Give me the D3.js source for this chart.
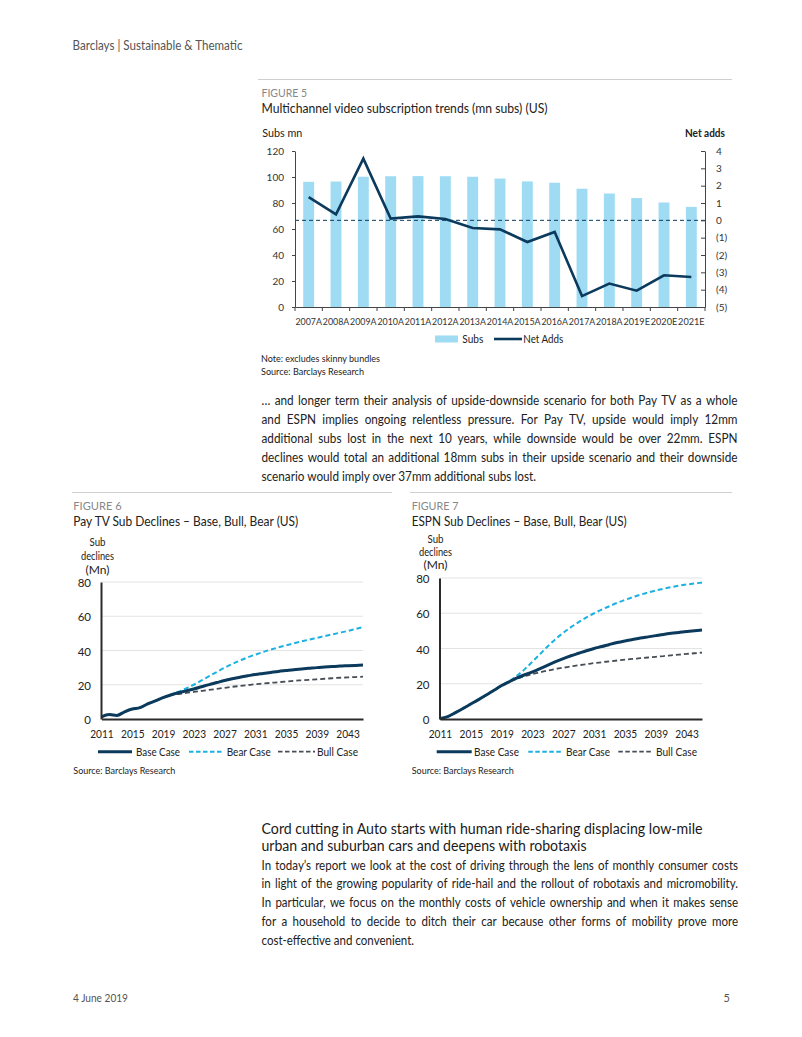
<!DOCTYPE html>
<html><head><meta charset="utf-8">
<script src="https://cdn.jsdelivr.net/npm/d3@7"></script>
<style>
html,body{margin:0;padding:0;background:#fff;}
svg{display:block;font-family:Lato,"Open Sans",sans-serif;}
</style></head><body>
<svg id="page" width="802" height="1037"></svg>
<script>
// ---------------- DATA ----------------
// Figure 5
const subsCategories = ["2007A","2008A","2009A","2010A","2011A","2012A","2013A","2014A","2015A","2016A","2017A","2018A","2019E","2020E","2021E"];
const subsValues = [96.3,96.5,100.2,100.6,100.7,100.6,100.2,98.8,96.6,95.6,91.0,87.3,83.8,80.4,77.0];
const netAddsValues = [1.34,0.35,3.56,0.10,0.23,0.08,-0.44,-0.52,-1.25,-0.67,-4.37,-3.65,-4.06,-3.17,-3.27];
const subsTicks = [0,20,40,60,80,100,120];
const netAddsTicks = [4,3,2,1,0,-1,-2,-3,-4,-5];

// Figures 6 & 7
const years = [2011,2012,2013,2014,2015,2016,2017,2018,2019,2020,2021,2022,2023,2024,2025,2026,2027,2028,2029,2030,2031,2032,2033,2034,2035,2036,2037,2038,2039,2040,2041,2042,2043,2044,2045];
const yearTicks = [2011,2015,2019,2023,2027,2031,2035,2039,2043];
const declineTicks = [0,20,40,60,80];

const payTvHistory = [1.3,2.6,2.1,4.2,5.8,6.6,8.8,10.6,12.5]; // 2011-2019
const payTvBase = [14.0,15.3,16.4,17.5,18.8,20.1,21.3,22.5,23.5,24.4,25.2,26.0,26.6,27.2,27.8,28.3,28.8,29.2,29.6,30.0,30.3,30.6,30.9,31.1,31.3,31.5];
const payTvBear = [14.2,15.9,17.9,20.0,22.5,25.0,27.5,29.9,32.1,34.1,36.0,37.6,39.1,40.5,41.8,43.0,44.2,45.3,46.4,47.4,48.4,49.4,50.4,51.4,52.5,53.7];
const payTvBull = [14.0,14.6,15.2,15.8,16.4,17.0,17.6,18.2,18.8,19.3,19.8,20.3,20.7,21.1,21.5,21.9,22.3,22.6,22.9,23.2,23.5,23.8,24.1,24.3,24.5,24.7];

const espnHistory = [0.3,1.4,3.6,6.0,8.5,11.0,13.6,16.3,19.0]; // 2011-2019
const espnBase = [21.2,23.3,25.1,26.7,28.6,30.6,32.5,34.3,35.9,37.3,38.7,40.0,41.1,42.3,43.4,44.3,45.1,45.9,46.6,47.3,48.0,48.6,49.1,49.6,50.1,50.5];
const espnBear = [21.5,24.6,28.3,32.5,36.9,41.3,45.3,48.9,52.1,55.0,57.6,60.0,62.1,64.0,65.9,67.6,69.1,70.5,71.8,72.9,73.9,74.8,75.6,76.3,76.9,77.4];
const espnBull = [21.2,22.9,24.3,25.5,26.5,27.5,28.4,29.1,29.8,30.5,31.1,31.7,32.2,32.7,33.2,33.7,34.1,34.5,34.9,35.3,35.7,36.1,36.5,36.9,37.3,37.7];

const legendNames = ["Base Case","Bear Case","Bull Case"];

// ---------------- STYLE ----------------
const NAVY = "#0b3a5c", CYAN = "#1bb1e0", GREY = "#474d55", BAR = "#9fdcf4";
const TEXT = "#222", LIGHT = "#888";

const svg = d3.select("#page");
svg.append("rect").attr("width",802).attr("height",1037).attr("fill","#fff");

function T(parent, x, y, s, o = {}) {
  const t = parent.append("text").attr("x", x).attr("y", y)
    .attr("dominant-baseline", "central")
    .attr("font-size", o.size || 12).attr("fill", o.fill || TEXT).text(s);
  if (o.weight) t.attr("font-weight", o.weight);
  if (o.anchor) t.attr("text-anchor", o.anchor);
  if (o.w) t.attr("textLength", o.w).attr("lengthAdjust", "spacingAndGlyphs");
  return t;
}

function para(lines, x0, x1, y0, lh, fs, lastWidth) {
  const g = svg.append("g").attr("font-size", fs).attr("fill", TEXT);
  const meas = s => { const t = g.append("text").text(s); const w = t.node().getComputedTextLength(); t.remove(); return w; };
  const k = lastWidth / meas(lines[lines.length - 1]);
  lines.forEach((line, i) => {
    const last = i === lines.length - 1;
    if (last) {
      g.append("text").attr("x", x0).attr("y", y0 + i * lh).attr("dominant-baseline", "central")
        .attr("textLength", lastWidth).attr("lengthAdjust", "spacingAndGlyphs").text(line);
      return;
    }
    const words = line.split(" ");
    const ws = words.map(w => meas(w) * k);
    const sum = d3.sum(ws);
    const gap = (x1 - x0 - sum) / (words.length - 1);
    let x = x0;
    words.forEach((w, j) => {
      g.append("text").attr("x", x).attr("y", y0 + i * lh).attr("dominant-baseline", "central")
        .attr("textLength", ws[j]).attr("lengthAdjust", "spacingAndGlyphs").text(w);
      x += ws[j] + gap;
    });
  });
}

// ---------------- PAGE TEXT ----------------
T(svg, 72.5, 45.7, "Barclays | Sustainable & Thematic", {size: 12.5, fill: "#555", w: 170});
T(svg, 73, 997, "4 June 2019", {size: 11, fill: "#555", w: 55});
T(svg, 730, 997, "5", {size: 11, fill: "#555", anchor: "end"});

// ---------------- FIGURE 5 ----------------
svg.append("line").attr("x1",258).attr("x2",732).attr("y1",79.5).attr("y2",79.5).attr("stroke","#cfcfcf");
T(svg, 261.5, 92.3, "FIGURE 5", {size: 11.5, fill: LIGHT, w: 45.6});
T(svg, 261.5, 108.3, "Multichannel video subscription trends (mn subs) (US)", {size: 12.5, w: 286});
T(svg, 262.3, 133, "Subs mn", {size: 10.5, w: 40});
T(svg, 725, 133, "Net adds", {size: 10.5, weight: "bold", anchor: "end", w: 40});

const f5 = svg.append("g");
const xOuter = d3.scaleBand().domain(subsCategories).range([295, 705]).padding(0);
const xBar = d3.scaleBand().domain(subsCategories).range([295, 705]).paddingInner(0.6).paddingOuter(0.3);
const yL = d3.scaleLinear().domain([0, 120]).range([307, 151]);
const yR = d3.scaleLinear().domain([-5, 4]).range([307, 151]);

f5.selectAll("rect.bar").data(subsValues).join("rect").attr("class","bar")
  .attr("x", (d, i) => xBar(subsCategories[i])).attr("width", xBar.bandwidth())
  .attr("y", d => yL(d)).attr("height", d => yL(0) - yL(d)).attr("fill", BAR);

f5.append("line").attr("x1",295).attr("x2",705).attr("y1",yR(0)).attr("y2",yR(0))
  .attr("stroke", NAVY).attr("stroke-width",1).attr("stroke-dasharray","4,3");

const netLine = d3.line().x((d, i) => xOuter(subsCategories[i]) + xOuter.bandwidth() / 2).y(d => yR(d));
f5.append("path").datum(netAddsValues).attr("d", netLine).attr("fill","none")
  .attr("stroke", NAVY).attr("stroke-width", 2.6).attr("stroke-linejoin","miter");

const axL = f5.append("g").attr("transform","translate(295,0)")
  .call(d3.axisLeft(yL).tickValues(subsTicks).tickSize(3).tickSizeOuter(0).tickPadding(8));
const axR = f5.append("g").attr("transform","translate(705,0)")
  .call(d3.axisRight(yR).tickValues(netAddsTicks).tickSizeInner(-4).tickSizeOuter(0).tickPadding(11)
    .tickFormat(d => d < 0 ? "(" + (-d) + ")" : String(d)));
const axB = f5.append("g").attr("transform","translate(0,307)")
  .call(d3.axisBottom(xOuter).tickSize(0).tickPadding(8));
axB.selectAll("text").attr("y", 13.5).attr("dy", null).attr("dominant-baseline","central")
  .attr("textLength", 26.5).attr("lengthAdjust","spacingAndGlyphs");
[axL, axR, axB].forEach(a => {
  a.attr("font-family", null).attr("font-size", 10);
  a.selectAll("path.domain").attr("stroke","#444");
  a.selectAll(".tick line").attr("stroke","#444");
  a.selectAll("text").attr("fill", "#333");
});
f5.selectAll("line.bt").data(subsCategories.concat(["_end"])).join("line").attr("class","bt")
  .attr("x1", (d, i) => i < subsCategories.length ? xOuter(d) : 705)
  .attr("x2", (d, i) => i < subsCategories.length ? xOuter(d) : 705)
  .attr("y1", 307).attr("y2", 311).attr("stroke","#444");

f5.append("rect").attr("x",435).attr("y",335.5).attr("width",23).attr("height",7).attr("fill",BAR);
T(f5, 462.3, 339, "Subs", {size: 10.5, w: 21});
f5.append("line").attr("x1",494).attr("x2",522).attr("y1",339).attr("y2",339).attr("stroke",NAVY).attr("stroke-width",2.6);
T(f5, 523.3, 339, "Net Adds", {size: 10.5, w: 40});

T(svg, 261, 358, "Note: excludes skinny bundles", {size: 9.5, w: 119});
T(svg, 261, 371.7, "Source: Barclays Research", {size: 9.5, w: 103});

// ---------------- PARAGRAPH 1 ----------------
para([
  "… and longer term their analysis of upside-downside scenario for both Pay TV as a whole",
  "and ESPN implies ongoing relentless pressure. For Pay TV, upside would imply 12mm",
  "additional subs lost in the next 10 years, while downside would be over 22mm. ESPN",
  "declines would total an additional 18mm subs in their upside scenario and their downside",
  "scenario would imply over 37mm additional subs lost."
], 261.5, 737.5, 400, 19.1, 12.5, 274.5);

// ---------------- FIGURES 6 & 7 ----------------
function scenarioChart(cfg) {
  const g = svg.append("g");
  g.append("line").attr("x1",cfg.ruleX0).attr("x2",cfg.ruleX1).attr("y1",492.5).attr("y2",492.5).attr("stroke","#cfcfcf");
  T(g, cfg.textX, 505, cfg.figLabel, {size: 11.5, fill: LIGHT, w: cfg.figW});
  T(g, cfg.textX, 521.5, cfg.title, {size: 12.5, w: cfg.titleW});
  const yt = cfg.yt;
  T(g, cfg.ytX, yt[0], "Sub", {size: yt[3], anchor: "middle", w: 16});
  T(g, cfg.ytX, yt[1], "declines", {size: yt[3], anchor: "middle", w: 33});
  T(g, cfg.ytX, yt[2], "(Mn)", {size: yt[3], anchor: "middle", w: 24});

  const x = d3.scaleLinear().domain([years[0], years[years.length - 1]]).range([cfg.x0, cfg.x1]);
  const y = d3.scaleLinear().domain([0, 80]).range([719, cfg.yTop]);

  g.selectAll("line.grid").data(declineTicks.filter(d => d > 0)).join("line").attr("class","grid")
    .attr("x1", cfg.x0).attr("x2", cfg.x1).attr("y1", d => y(d)).attr("y2", d => y(d))
    .attr("stroke", "#e3e3e3").attr("stroke-width", 1);

  const line = d3.line().x((d, i) => x(years[i])).y(d => y(d)).curve(d3.curveMonotoneX);
  const bear = cfg.history.concat(cfg.bear), bull = cfg.history.concat(cfg.bull), base = cfg.history.concat(cfg.base);
  g.append("path").datum(bear).attr("d", line).attr("fill","none").attr("stroke",CYAN).attr("stroke-width",2).attr("stroke-dasharray","5,3");
  g.append("path").datum(bull).attr("d", line).attr("fill","none").attr("stroke",GREY).attr("stroke-width",1.8).attr("stroke-dasharray","5,3");
  g.append("path").datum(base).attr("d", line).attr("fill","none").attr("stroke",NAVY).attr("stroke-width",3);

  const ay = g.append("g").attr("transform", `translate(${cfg.x0 - 0.5},0)`)
    .call(d3.axisLeft(y).tickValues(declineTicks).tickSize(0).tickPadding(10));
  const ax = g.append("g").attr("transform", "translate(0,719)")
    .call(d3.axisBottom(x).tickValues(yearTicks).tickSize(0).tickPadding(8).tickFormat(d3.format("d")));
  ax.selectAll("text").attr("y", 14).attr("dy", null).attr("dominant-baseline","central")
    .attr("textLength", 23.5).attr("lengthAdjust","spacingAndGlyphs");
  ay.selectAll("text").attr("dy", null).attr("dominant-baseline","central");
  [ax, ay].forEach(a => {
    a.attr("font-family", null).attr("font-size", 11.5);
    a.selectAll("text").attr("fill", "#222");
    a.selectAll("path.domain").attr("stroke", "#2b2b2b").attr("stroke-width", 2);
  });

  const L = cfg.legend, ly = 751.7;
  const styles = [
    {stroke: NAVY, sw: 3, dash: null},
    {stroke: CYAN, sw: 2, dash: "4.5,2.5"},
    {stroke: GREY, sw: 1.8, dash: "4.5,2.5"}
  ];
  legendNames.forEach((n, i) => {
    const s = styles[i];
    const l = g.append("line").attr("x1", L[i][0]).attr("x2", L[i][1]).attr("y1", ly).attr("y2", ly)
      .attr("stroke", s.stroke).attr("stroke-width", s.sw);
    if (s.dash) l.attr("stroke-dasharray", s.dash);
    T(g, L[i][2], ly, n, {size: 11, w: L[i][3]});
  });
  T(g, cfg.textX, 770.7, "Source: Barclays Research", {size: 9.5, w: 102});
}

scenarioChart({
  ruleX0: 72, ruleX1: 392, textX: 73.3, figLabel: "FIGURE 6", figW: 48.4,
  title: "Pay TV Sub Declines – Base, Bull, Bear (US)", titleW: 225,
  ytX: 97.5, yt: [541, 555, 569.5, 11.5], x0: 101.5, x1: 363, yTop: 582,
  history: payTvHistory, base: payTvBase, bear: payTvBear, bull: payTvBull,
  legend: [[98,132,136,44],[189,223,226.7,44],[278,315,317,41]]
});
scenarioChart({
  ruleX0: 410, ruleX1: 732, textX: 411.7, figLabel: "FIGURE 7", figW: 46.7,
  title: "ESPN Sub Declines – Base, Bull, Bear (US)", titleW: 215,
  ytX: 435.5, yt: [538, 551.5, 564.5, 11], x0: 440, x1: 702, yTop: 578,
  history: espnHistory, base: espnBase, bear: espnBear, bull: espnBull,
  legend: [[436.7,471.7,474,45],[528.3,563.3,566,44],[618.3,653.3,656,41]]
});

// ---------------- SECTION 2 ----------------
const hg = svg.append("g");
T(hg, 261.5, 828.3, "Cord cutting in Auto starts with human ride-sharing displacing low-mile", {size: 14.5, fill: "#1a1a1a", w: 441});
T(hg, 261.5, 845.5, "urban and suburban cars and deepens with robotaxis", {size: 14.5, fill: "#1a1a1a", w: 325});
para([
  "In today’s report we look at the cost of driving through the lens of monthly consumer costs",
  "in light of the growing popularity of ride-hail and the rollout of robotaxis and micromobility.",
  "In particular, we focus on the monthly costs of vehicle ownership and when it makes sense",
  "for a household to decide to ditch their car because other forms of mobility prove more",
  "cost-effective and convenient."
], 261.5, 738, 865, 18.95, 12.5, 152.5);
</script>
</body></html>
